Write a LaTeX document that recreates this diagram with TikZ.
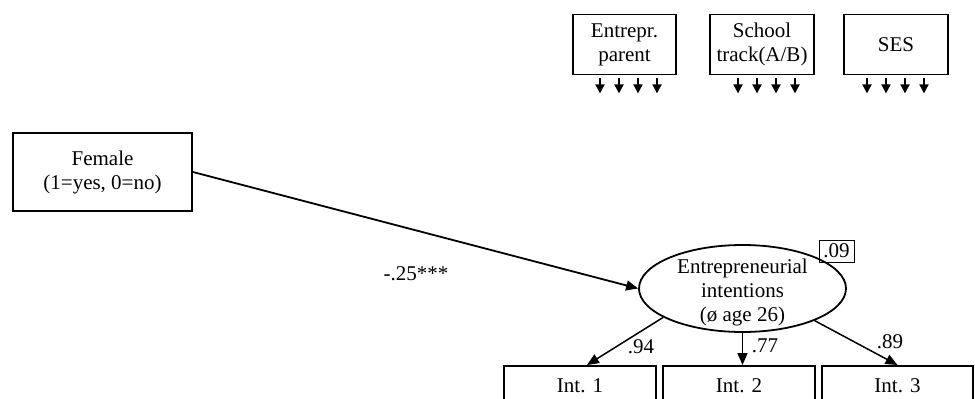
\documentclass[tikz,border=0pt]{standalone}
\usepackage{fontspec}
\setmainfont{Liberation Serif}
\usetikzlibrary{shapes.geometric, positioning, arrows.meta}
\tikzset{box/.style={draw,line width=1.8pt,align=center,inner sep=0pt},
         latent/.style={draw,ellipse,line width=1.8pt,minimum width=207pt,minimum height=87pt,inner sep=0pt},
         rsq/.style={draw,line width=0.8pt,minimum width=35pt,minimum height=22pt,inner sep=0pt},
         effect/.style={-{Triangle[length=12pt,width=10pt]},line width=1.8pt},
         loading/.style={-{Triangle[length=12pt,width=10pt]},line width=1.5pt},
         ctrl/.style={-{Triangle[length=9pt,width=9pt]},line width=1.8pt},
        }

\begin{document}
\begin{tikzpicture}[x=1pt,y=-1pt,font=\fontsize{21}{24}\selectfont]
        \useasboundingbox (0,0) rectangle (975,399);
        \clip (0,0) rectangle (975,399);

        \node[box,minimum width=103pt,minimum height=60pt](parent)at(624.5,44.5){Entrepr.\\parent};
        \node[box,minimum width=104pt,minimum height=60pt](track)at(762,44.5){School\\track(A/B)};
        \node[box,minimum width=104pt,minimum height=60pt](ses)at(896,44.5){SES};

        \foreach \n/\s in {parent/4,track/4.5,ses/-0.5}
            \foreach \k in {-28.5,-9.5,9.5,28.5}
                \draw[ctrl]([xshift=\k pt+\s pt,yshift=-3pt]\n.south)--++(0,15);

        \node[box,minimum width=179pt,minimum height=78pt](female)at(102.5,172){Female\\(1=yes, 0=no)};

        \node[latent,label={[align=center,yshift=-4pt]center:Entrepreneurial\\intentions\\(ø age 26)}](ei)at(742.5,288.5){};
        \node[rsq](r2)at(836.5,251){.09};

        \node[box,minimum width=152pt,minimum height=40pt,anchor=north](int1)at(580,365){Int. 1};
        \node[box,minimum width=152pt,minimum height=40pt,anchor=north](int2)at(739,365){Int. 2};
        \node[box,minimum width=151pt,minimum height=40pt,anchor=north](int3)at(897.5,365){Int. 3};

        \draw[effect](female.east)--(ei.west);
        \node(b1)at(416,274){-.25***};

        \draw[loading](ei.200)--([xshift=7pt]int1.north);
        \draw[loading](ei.south)--(ei.south|-int2.north);
        \draw[loading](ei.336)--(int3.north);

        \node(l94)at(641,347){.94};
        \node(l77)at(765,346){.77};
        \node(l89)at(890,342){.89};
    \end{tikzpicture}
\end{document}
